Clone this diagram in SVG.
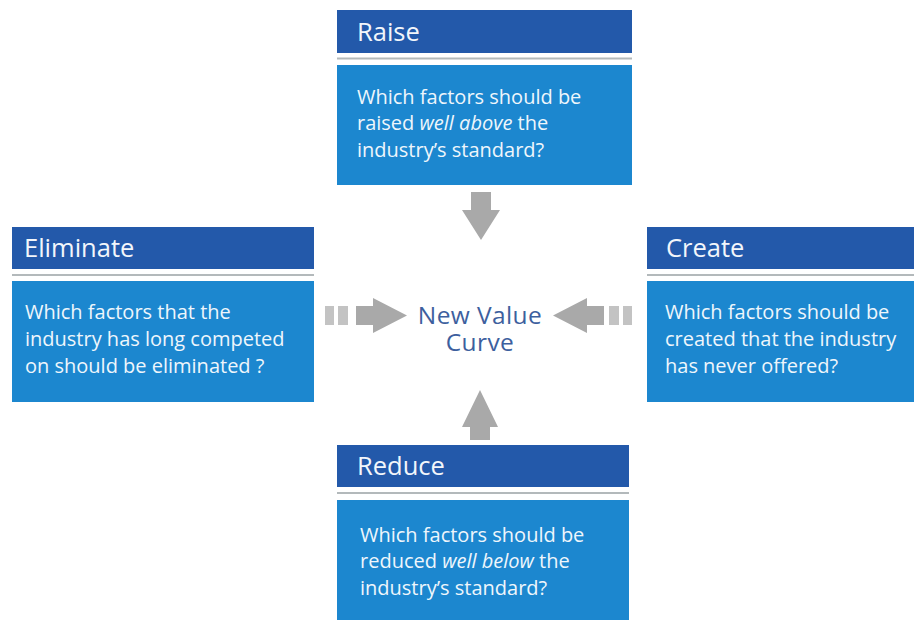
<svg xmlns="http://www.w3.org/2000/svg" width="914" height="623" viewBox="0 0 914 623">
  <style>
    .head { fill: #2359aa; }
    .body { fill: #1c87cf; }
    .rule { stroke: #b3b9bb; stroke-width: 2; }
    .title { font-family: "Open Sans", "Liberation Sans", sans-serif; font-size: 25.5px; fill: #f2f6fb; }
    .txt { font-family: "Open Sans", "Liberation Sans", sans-serif; font-size: 20px; fill: #eef6fc; }
    .center { font-family: "Open Sans", "Liberation Sans", sans-serif; font-size: 24.5px; letter-spacing: 0.4px; fill: #3d5f9e; text-anchor: middle; }
    .arrow { fill: #a9a9a9; }
    .bar { fill: #c3c3c3; }
  </style>
  <rect width="914" height="623" fill="#ffffff"/>

  <g id="raise">
    <rect class="head" x="337" y="10" width="295" height="43"/>
    <line class="rule" x1="337" y1="58.5" x2="632" y2="58.5"/>
    <rect class="body" x="337" y="65" width="295" height="120"/>
    <text class="title" x="357" y="41">Raise</text>
    <text class="txt" x="357" y="104">Which factors should be</text>
    <text class="txt" x="357" y="130">raised <tspan font-style="italic">well above</tspan> the</text>
    <text class="txt" x="357" y="157">industry’s standard?</text>
  </g>

  <g id="eliminate">
    <rect class="head" x="12" y="227" width="302" height="42"/>
    <line class="rule" x1="12" y1="275" x2="314" y2="275"/>
    <rect class="body" x="12" y="281" width="302" height="121"/>
    <text class="title" x="24" y="257">Eliminate</text>
    <text class="txt" x="25" y="319">Which factors that the</text>
    <text class="txt" x="25" y="346">industry has long competed</text>
    <text class="txt" x="25" y="373">on should be eliminated ?</text>
  </g>

  <g id="create">
    <rect class="head" x="647" y="227" width="267" height="42"/>
    <line class="rule" x1="647" y1="275" x2="914" y2="275"/>
    <rect class="body" x="647" y="281" width="267" height="121"/>
    <text class="title" x="666" y="257">Create</text>
    <text class="txt" x="665" y="319">Which factors should be</text>
    <text class="txt" x="665" y="346">created that the industry</text>
    <text class="txt" x="665" y="373">has never offered?</text>
  </g>

  <g id="reduce">
    <rect class="head" x="337" y="445" width="292" height="42"/>
    <line class="rule" x1="337" y1="493" x2="629" y2="493"/>
    <rect class="body" x="337" y="500" width="292" height="120"/>
    <text class="title" x="357" y="475">Reduce</text>
    <text class="txt" x="360" y="542">Which factors should be</text>
    <text class="txt" x="360" y="568">reduced <tspan font-style="italic">well below</tspan> the</text>
    <text class="txt" x="360" y="595">industry’s standard?</text>
  </g>

  <g id="new-value-curve">
    <text class="center" x="480" y="324">New Value<tspan x="480" dy="27">Curve</tspan></text>
  </g>

  <g id="connectors">
    <!-- from Raise, pointing down -->
    <polygon class="arrow" points="471,192 491,192 491,210 500,210 481,240 462,210 471,210"/>
    <!-- from Reduce, pointing up -->
    <polygon class="arrow" points="470,440 490,440 490,427 498,427 480,390 462,427 470,427"/>
    <!-- from Eliminate, pointing right -->
    <rect class="bar" x="325" y="306" width="9" height="19"/>
    <rect class="bar" x="338" y="306" width="10" height="19"/>
    <polygon class="arrow" points="356,306 373,306 373,298 407,315.5 373,333 373,325 356,325"/>
    <!-- from Create, pointing left -->
    <rect class="bar" x="623" y="306" width="9" height="19"/>
    <rect class="bar" x="609" y="306" width="10" height="19"/>
    <polygon class="arrow" points="604,306 587,306 587,298 553,315.5 587,333 587,325 604,325"/>
  </g>
</svg>
